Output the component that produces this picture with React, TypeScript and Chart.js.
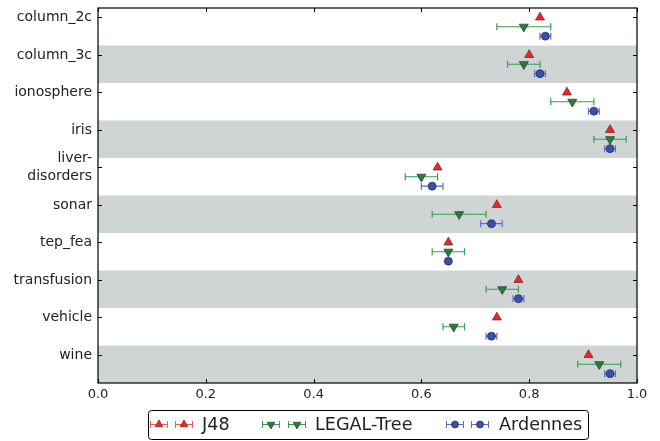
import React, { useEffect, useRef } from "react";
import { Chart, registerables } from "chart.js";

Chart.register(...registerables);

const categories = ["column_2c", "column_3c", "ionosphere", "iris", "liver-disorders", "sonar", "tep_fea", "transfusion", "vehicle", "wine"];
const j48Values = [0.82, 0.80, 0.87, 0.95, 0.63, 0.74, 0.65, 0.78, 0.74, 0.91];
const j48Errors = [0, 0, 0, 0, 0, 0, 0, 0, 0, 0];
const legalValues = [0.79, 0.79, 0.88, 0.95, 0.60, 0.67, 0.65, 0.75, 0.66, 0.93];
const legalErrors = [0.05, 0.03, 0.04, 0.03, 0.03, 0.05, 0.03, 0.03, 0.02, 0.04];
const ardennesValues = [0.83, 0.82, 0.92, 0.95, 0.62, 0.73, 0.65, 0.78, 0.73, 0.95];
const ardennesErrors = [0.01, 0.01, 0.01, 0.01, 0.02, 0.02, 0, 0.01, 0.01, 0.01];
const xTicks = [0, 0.2, 0.4, 0.6, 0.8, 1.0];

const FONT = "'DejaVu Sans', sans-serif";

const series = [
  { label: "J48", values: j48Values, errors: j48Errors, offset: 0.25, fill: "#e5282c", edge: "#7a1c1c", err: "#ef5a5a", style: "triangle", rot: 0, r: 5.2 },
  { label: "LEGAL-Tree", values: legalValues, errors: legalErrors, offset: 0.5, fill: "#2a7b3c", edge: "#1d3f25", err: "#3b9a52", style: "triangle", rot: 180, r: 5.2 },
  { label: "Ardennes", values: ardennesValues, errors: ardennesErrors, offset: 0.75, fill: "#3a4fa6", edge: "#1f2a5a", err: "#5a6ec4", style: "circle", rot: 0, r: 4 },
];

function drawMarker(ctx: CanvasRenderingContext2D, s: any, x: number, y: number) {
  ctx.save();
  ctx.fillStyle = s.fill;
  ctx.strokeStyle = s.edge;
  ctx.lineWidth = 0.7;
  ctx.beginPath();
  if (s.style === "circle") {
    ctx.arc(x, y, s.r, 0, Math.PI * 2);
  } else {
    const r = s.r;
    const dir = s.rot === 180 ? 1 : -1;
    ctx.moveTo(x, y + dir * r);
    ctx.lineTo(x + r * 0.866, y - dir * r * 0.5);
    ctx.lineTo(x - r * 0.866, y - dir * r * 0.5);
    ctx.closePath();
  }
  ctx.fill();
  ctx.stroke();
  ctx.restore();
}

function drawErr(ctx: CanvasRenderingContext2D, color: string, x1: number, x2: number, y: number, lw = 1.2) {
  ctx.save();
  ctx.strokeStyle = color;
  ctx.lineWidth = lw;
  ctx.beginPath();
  ctx.moveTo(x1, y);
  ctx.lineTo(x2, y);
  ctx.moveTo(x1, y - 3.5);
  ctx.lineTo(x1, y + 3.5);
  ctx.moveTo(x2, y - 3.5);
  ctx.lineTo(x2, y + 3.5);
  ctx.stroke();
  ctx.restore();
}

const bandsPlugin = {
  id: "bands",
  beforeDatasetsDraw(chart: any) {
    const { ctx, chartArea } = chart;
    const ys = chart.scales.y;
    ctx.save();
    ctx.fillStyle = "#cfd5d5";
    categories.forEach((_, i) => {
      if (i % 2 === 1) {
        const t = ys.getPixelForValue(i);
        const b = ys.getPixelForValue(i + 1);
        ctx.fillRect(chartArea.left, t, chartArea.right - chartArea.left, b - t);
      }
    });
    ctx.restore();
  },
};

const errorPlugin = {
  id: "errbars",
  afterDatasetsDraw(chart: any) {
    const { ctx } = chart;
    const xs = chart.scales.x;
    const ys = chart.scales.y;
    series.forEach((s) => {
      s.values.forEach((v, i) => {
        const e = s.errors[i];
        const y = ys.getPixelForValue(i + s.offset);
        if (e > 0) {
          drawErr(ctx, s.err, xs.getPixelForValue(v - e), xs.getPixelForValue(v + e), y);
        }
      });
    });
    series.forEach((s) => {
      s.values.forEach((v, i) => {
        drawMarker(ctx, s, xs.getPixelForValue(v), ys.getPixelForValue(i + s.offset));
      });
    });
  },
};

const framePlugin = {
  id: "frame",
  afterDraw(chart: any) {
    const { ctx, chartArea } = chart;
    const xs = chart.scales.x;
    const ys = chart.scales.y;
    const { left, right, top, bottom } = chartArea;
    ctx.save();
    ctx.strokeStyle = "#000";
    ctx.lineWidth = 1;
    ctx.beginPath();
    xTicks.forEach((t) => {
      const x = Math.round(xs.getPixelForValue(t)) + 0.5;
      ctx.moveTo(x, bottom);
      ctx.lineTo(x, bottom - 4);
      ctx.moveTo(x, top);
      ctx.lineTo(x, top + 4);
    });
    categories.forEach((_, i) => {
      const y = Math.round(ys.getPixelForValue(i + 0.25)) + 0.5;
      ctx.moveTo(left, y);
      ctx.lineTo(left + 4, y);
      ctx.moveTo(right, y);
      ctx.lineTo(right - 4, y);
    });
    ctx.stroke();
    ctx.lineWidth = 1.2;
    ctx.strokeRect(left, top, right - left, bottom - top);

    // legend
    const bx = 148, by = 410.5, bw = 440, bh = 29;
    ctx.fillStyle = "#fff";
    ctx.strokeStyle = "#000";
    ctx.lineWidth = 1;
    ctx.beginPath();
    (ctx as any).roundRect(bx + 0.5, by, bw, bh, 3);
    ctx.fill();
    ctx.stroke();
    const cy = 424.5;
    const items = [
      { s: series[0], m: [159, 184], tx: 202 },
      { s: series[1], m: [271, 297], tx: 315 },
      { s: series[2], m: [455, 480], tx: 499 },
    ];
    items.forEach((it) => {
      it.m.forEach((mx) => {
        drawErr(ctx, it.s.err, mx - 8.5, mx + 8.5, cy, 1);
        drawMarker(ctx, { ...it.s, r: it.s.style === "circle" ? 3.5 : 4.5 }, mx, cy);
      });
      ctx.fillStyle = "#222";
      ctx.font = `17.6px ${FONT}`;
      ctx.textBaseline = "middle";
      ctx.textAlign = "left";
      ctx.fillText(it.s.label, it.tx, cy + 1);
    });
    ctx.restore();
  },
};

export default function App() {
  const ref = useRef<HTMLCanvasElement | null>(null);
  useEffect(() => {
    document.body.style.margin = "0";
    const canvas = ref.current!;
    const datasets = series.map((s) => ({
      label: s.label,
      data: s.values.map((v, i) => ({ x: v, y: i + s.offset })),
      pointRadius: 0,
      showLine: false,
    }));
    const chart = new Chart(canvas, {
      type: "scatter",
      data: { datasets },
      plugins: [bandsPlugin, errorPlugin, framePlugin],
      options: {
        animation: false,
        responsive: false,
        devicePixelRatio: 1,
        layout: { padding: { left: 0, top: 8, right: 23, bottom: 0 } },
        plugins: { legend: { display: false }, tooltip: { enabled: false } },
        scales: {
          x: {
            type: "linear",
            min: 0,
            max: 1,
            grid: { display: false, drawTicks: false },
            border: { display: false },
            afterBuildTicks(scale: any) {
              scale.ticks = xTicks.map((v) => ({ value: v }));
            },
            afterFit(scale: any) {
              scale.height = 58;
              scale.paddingLeft = 0;
              scale.paddingRight = 0;
            },
            ticks: {
              padding: 4,
              color: "#222",
              font: { family: FONT, size: 13 },
              callback: (v: any) => Number(v).toFixed(1),
            },
          },
          y: {
            type: "linear",
            min: 0,
            max: 10,
            reverse: true,
            grid: { display: false, drawTicks: false },
            border: { display: false },
            afterBuildTicks(scale: any) {
              scale.ticks = categories.map((_, i) => ({ value: i + 0.25 }));
            },
            afterFit(scale: any) {
              scale.width = 98;
              scale.paddingTop = 0;
              scale.paddingBottom = 0;
            },
            ticks: {
              padding: 6,
              color: "#222",
              font: { family: FONT, size: 14, lineHeight: 1.3 },
              callback: (v: any) => {
                const idx = Math.round(Number(v) - 0.25);
                const c = categories[idx];
                if (c === "liver-disorders") return ["liver-", "disorders"];
                return c;
              },
            },
          },
        },
      } as any,
    });
    return () => chart.destroy();
  }, []);
  return (
    <div style={{ width: 660, height: 441 }}>
      <canvas ref={ref} width={660} height={441} style={{ display: "block", width: 660, height: 441 }} />
    </div>
  );
}
